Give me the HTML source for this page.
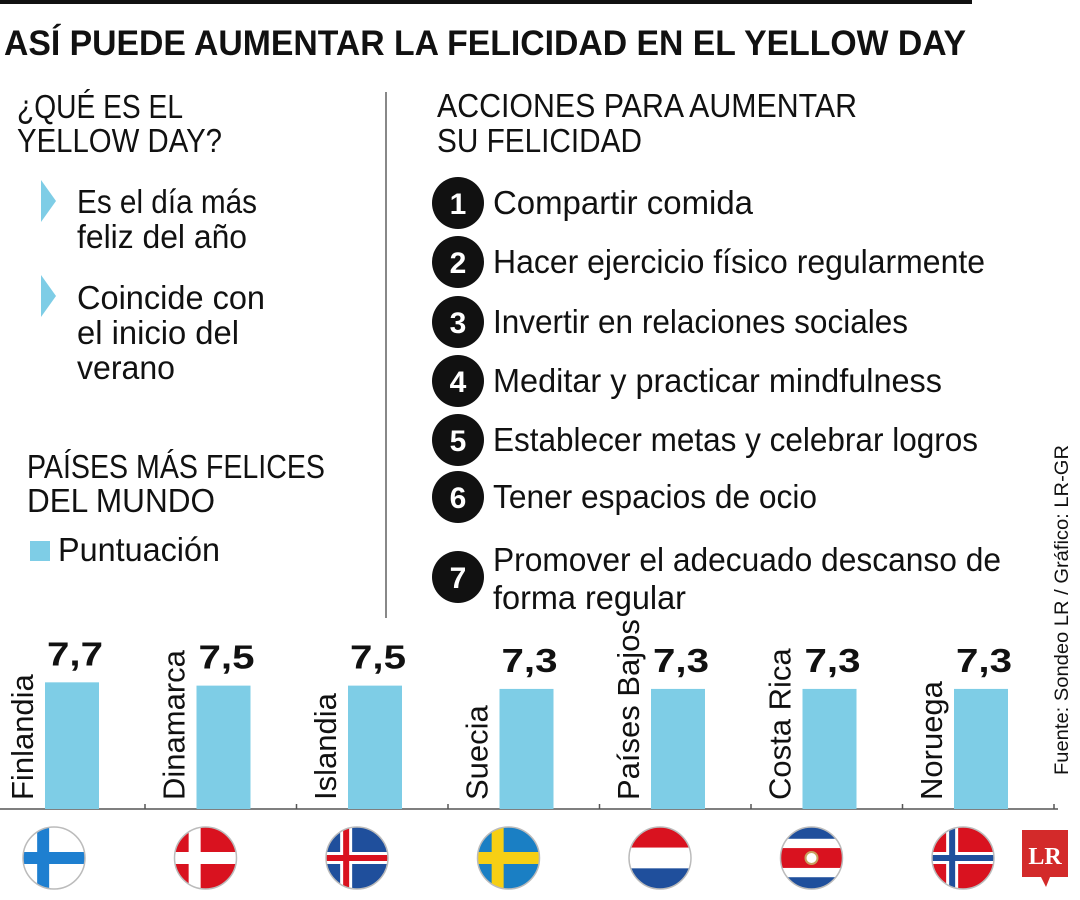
<!DOCTYPE html>
<html><head><meta charset="utf-8">
<style>
html,body{margin:0;padding:0;background:#fff;}
svg{display:block;font-family:"Liberation Sans",sans-serif;}
</style></head>
<body>
<svg id="s" width="1080" height="900" viewBox="0 0 1080 900">
<rect x="0" y="0" width="972" height="4" fill="#111"/>
<text x="4" y="55" font-size="35" font-weight="bold" textLength="962" lengthAdjust="spacingAndGlyphs" fill="#111">ASÍ PUEDE AUMENTAR LA FELICIDAD EN EL YELLOW DAY</text>

<g fill="#111" font-size="33">
<text x="17" y="118" textLength="166" lengthAdjust="spacingAndGlyphs">¿QUÉ ES EL</text>
<text x="17" y="152" textLength="205" lengthAdjust="spacingAndGlyphs">YELLOW DAY?</text>
<polygon points="41,180 56,201 41,222" fill="#7ecde6"/>
<text x="77" y="213" textLength="180" lengthAdjust="spacingAndGlyphs">Es el día más</text>
<text x="77" y="248" textLength="170" lengthAdjust="spacingAndGlyphs">feliz del año</text>
<polygon points="41,275 56,296 41,317" fill="#7ecde6"/>
<text x="77" y="309" textLength="188" lengthAdjust="spacingAndGlyphs">Coincide con</text>
<text x="77" y="344" textLength="162" lengthAdjust="spacingAndGlyphs">el inicio del</text>
<text x="77" y="379" textLength="98" lengthAdjust="spacingAndGlyphs">verano</text>
<text x="27" y="478" textLength="298" lengthAdjust="spacingAndGlyphs">PAÍSES MÁS FELICES</text>
<text x="27" y="512" textLength="188" lengthAdjust="spacingAndGlyphs">DEL MUNDO</text>
<rect x="30" y="541" width="20" height="20" fill="#7ecde6"/>
<text x="58" y="561" textLength="162" lengthAdjust="spacingAndGlyphs">Puntuación</text>
</g>
<rect x="385" y="92" width="2" height="526" fill="#888"/>
<g fill="#111" font-size="33">
<text x="437" y="117" textLength="420" lengthAdjust="spacingAndGlyphs">ACCIONES PARA AUMENTAR</text>
<text x="437" y="152" textLength="205" lengthAdjust="spacingAndGlyphs">SU FELICIDAD</text>
</g>
<g id="actions"></g>
<g id="chart"></g>
<text transform="translate(1068,775) rotate(-90)" font-size="19" textLength="330" lengthAdjust="spacingAndGlyphs" fill="#111">Fuente: Sondeo LR / Gráfico: LR-GR</text>
<g>
<path d="M1022,830 H1068 V877 H1050 L1046,887 L1041,877 H1022 Z" fill="#d32a2a"/>
<text x="1045" y="864" font-family="Liberation Serif,serif" font-weight="bold" font-size="24" fill="#fff" text-anchor="middle">LR</text>
</g>
</svg>
<script>
const NS='http://www.w3.org/2000/svg';
const actionTexts=['Compartir comida','Hacer ejercicio físico regularmente','Invertir en relaciones sociales','Meditar y practicar mindfulness','Establecer metas y celebrar logros','Tener espacios de ocio','Promover el adecuado descanso de'];
const actionWidths=[260,492,415,449,485,324,508];
const actionY=[203,262,322,381,440,497,577];
const countries=['Finlandia','Dinamarca','Islandia','Suecia','Países Bajos','Costa Rica','Noruega'];
const scores=[7.7,7.5,7.5,7.3,7.3,7.3,7.3];
const scoreLabels=['7,7','7,5','7,5','7,3','7,3','7,3','7,3'];

function mk(tag,attrs,parent){const e=document.createElementNS(NS,tag);for(const k in attrs)e.setAttribute(k,attrs[k]);parent.appendChild(e);return e;}
const ag=document.getElementById('actions');
actionTexts.forEach((t,i)=>{
  const c=mk('circle',{cx:458,cy:actionY[i],r:26,fill:'#111'},ag);
  
  
  const n=mk('text',{x:458,y:actionY[i]+11,'font-size':30,'font-weight':'bold',fill:'#fff','text-anchor':'middle'},ag);
  n.textContent=String(i+1);
  
  
  const tx=mk('text',{x:493,y:actionY[i]+11-(i==6?17:0),'font-size':33,fill:'#111',textLength:actionWidths[i],lengthAdjust:'spacingAndGlyphs'},ag);
  tx.textContent=t;
  
  
});
const t2=mk('text',{x:493,y:609,'font-size':33,fill:'#111',textLength:193,lengthAdjust:'spacingAndGlyphs'},ag);
t2.textContent='forma regular';



const cg=document.getElementById('chart');
const baseY=809, pxPerUnit=16.45, step=151.5, x0=45, barW=54;
const yS=v=>baseY-v*pxPerUnit;
const xS=i=>x0+i*step;
const ax=mk('line',{x1:0,y1:baseY,x2:1058,y2:baseY,stroke:'#555','stroke-width':1.5},cg);


for(let i=0;i<countries.length;i++){
  const tx=xS(i)+100;
  const tk=mk('line',{x1:tx,y1:baseY-5,x2:tx,y2:baseY,stroke:'#555','stroke-width':1.5},cg);
  
  
}
const flagColors=[['#fff','#1e7fd0','cross'],['#d9121f','#fff','cross'],['#1f4f9c','#fff','icross'],['#1a7fc4','#f6cf14','cross'],['nl'],['cr'],['#d9121f','#fff','ncross']];
countries.forEach((c,i)=>{
  const x=xS(i), y=yS(scores[i]);
  const b=mk('rect',{x:x,y:y,width:barW,height:baseY-y,fill:'#7ecde6'},cg);
  
  
  const v=mk('text',{x:x+2,y:y-17,'font-size':33,'font-weight':'bold',fill:'#111',textLength:56,lengthAdjust:'spacingAndGlyphs'},cg);
  v.textContent=scoreLabels[i];
  
  
  const l=mk('text',{transform:`translate(${x-12},800) rotate(-90)`,'font-size':31,fill:'#111'},cg);
  l.textContent=c;
  
  
  const cx=x+9, cy=858, r=31;
  const g=mk('g',{},cg);
  
  
  const id='clip'+i;
  const cp=mk('clipPath',{id:id},g); mk('circle',{cx:cx,cy:cy,r:r},cp);
  const fg=mk('g',{'clip-path':`url(#${id})`},g);
  const f=flagColors[i];
  if(f[0]==='nl'){
    mk('rect',{x:cx-r,y:cy-r,width:2*r,height:2*r/3,fill:'#d9121f'},fg);
    mk('rect',{x:cx-r,y:cy-r/3,width:2*r,height:2*r/3,fill:'#fff'},fg);
    mk('rect',{x:cx-r,y:cy+r/3,width:2*r,height:2*r/3,fill:'#1f4f9c'},fg);
  } else if(f[0]==='cr'){
    mk('rect',{x:cx-r,y:cy-r,width:2*r,height:2*r,fill:'#1f4f9c'},fg);
    mk('rect',{x:cx-r,y:cy-r*0.62,width:2*r,height:r*1.24,fill:'#fff'},fg);
    mk('rect',{x:cx-r,y:cy-r*0.32,width:2*r,height:r*0.64,fill:'#d9121f'},fg);
    mk('circle',{cx:cx,cy:cy,r:6,fill:'#fff',stroke:'#c8a060','stroke-width':2},fg);
  } else {
    mk('rect',{x:cx-r,y:cy-r,width:2*r,height:2*r,fill:f[0]},fg);
    const vx=cx-r*0.35;
    mk('rect',{x:vx-6,y:cy-r,width:12,height:2*r,fill:f[1]},fg);
    mk('rect',{x:cx-r,y:cy-6,width:2*r,height:12,fill:f[1]},fg);
    if(f[2]!=='cross'){
      const inner=f[2]==='icross'?'#d9121f':'#1f4f9c';
      mk('rect',{x:vx-3,y:cy-r,width:6,height:2*r,fill:inner},fg);
      mk('rect',{x:cx-r,y:cy-3,width:2*r,height:6,fill:inner},fg);
    }
  }
  mk('circle',{cx:cx,cy:cy,r:r,fill:'none',stroke:'#bbb','stroke-width':1.5},g);
});
</script>
</body></html>
